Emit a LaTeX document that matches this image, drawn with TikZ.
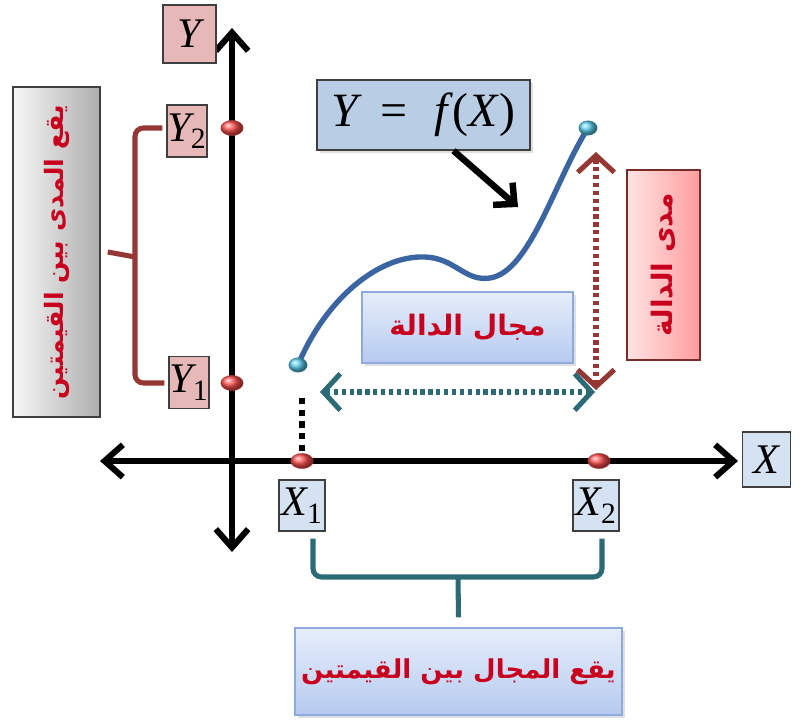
\documentclass[tikz,border=0pt]{standalone}
\usepackage{fontspec}
\newfontfamily\arabicfont[Script=Arabic]{DejaVu Sans}
\newfontfamily\timesfont{Liberation Serif}
\TeXXeTstate=1
\usetikzlibrary{positioning,arrows.meta,shapes.geometric,shadows}

\definecolor{curveblue}{HTML}{3A64A2}
\definecolor{rangered}{HTML}{953735}
\definecolor{domainteal}{HTML}{2C6B76}
\definecolor{labelred}{HTML}{C8001E}
\definecolor{pinkfill}{HTML}{E6B9B8}
\definecolor{bluefill}{HTML}{D5E2F2}
\definecolor{steelfill}{HTML}{B9CDE5}
\definecolor{dotred}{HTML}{FF5050}
\definecolor{dotcyan}{HTML}{5CD0F0}
\definecolor{framegray}{HTML}{3F3F3F}
\definecolor{boxblue}{HTML}{8EA9DB}
\definecolor{boxtop}{HTML}{E6EEFB}
\definecolor{boxbottom}{HTML}{B6CAEF}
\definecolor{pinkleft}{HTML}{FFE4E4}
\definecolor{pinkright}{HTML}{FF9C9C}

\newcommand{\artext}[1]{\arabicfont\bfseries\color{labelred}\beginR #1\endR}

\begin{document}
\begin{tikzpicture}[
    x=0.025cm, y=-0.025cm,
    axis/.style={line width=4.3pt, {Straight Barb[length=13pt,width=23pt]}-{Straight Barb[length=13pt,width=23pt]}},
    ylbl/.style={draw=framegray, fill=pinkfill, line width=0.8pt, inner sep=0pt, minimum width=1.0cm, minimum height=1.3cm, font=\timesfont\fontsize{30}{30}\selectfont\itshape},
    xlbl/.style={ylbl, fill=bluefill, minimum width=1.15cm, minimum height=1.275cm},
    rdot/.style={ellipse, ball color=dotred, draw=dotred!70!black, line width=0.3pt, minimum width=0.56cm, minimum height=0.38cm, inner sep=0pt},
    cdot/.style={rdot, ball color=dotcyan, draw=dotcyan!60!black, minimum width=0.46cm, minimum height=0.36cm},
    fcurve/.style={curveblue, line width=3.8pt, line cap=round},
    pointer/.style={line width=4.6pt, -{Straight Barb[length=11pt,width=21pt]}},
    rangearrow/.style={rangered, line width=3.6pt, dash pattern=on 3pt off 2.6pt, {Straight Barb[length=12pt,width=26pt]}-{Straight Barb[length=12pt,width=26pt]}},
    domainarrow/.style={rangearrow, domainteal},
    rbrace/.style={rangered, line width=3.6pt, rounded corners=6pt},
    tbrace/.style={domainteal, line width=3.6pt, rounded corners=6pt},
    arbox/.style={draw=boxblue, line width=0.8pt, top color=boxtop, bottom color=boxbottom, align=center, font=\fontsize{20}{24}\selectfont, drop shadow={opacity=0.25, shadow xshift=2pt, shadow yshift=-2pt}},
]
\useasboundingbox (0,0) rectangle (802,720);

\coordinate (xl) at (100,461);
\coordinate (xr) at (738,461);
\coordinate (yb) at (232,552);
\coordinate (yt) at (232,28);
\draw[axis] (xl) -- (xr);
\draw[axis] (yb) -- (yt);

\node[ylbl, minimum width=1.325cm, minimum height=1.45cm] (ylab) at (189.5,34) {Y};
\node[xlbl, minimum width=1.2cm, minimum height=1.375cm] (xlab) at (766.5,459.5) {X};

\node[ylbl] (ytwo) at (187,131) {Y\textsubscript{\upshape 2}};
\node[ylbl] (yone) at (189,382.5) {Y\textsubscript{\upshape 1}};
\node[xlbl] (xone) at (302,505.5) {X\textsubscript{\upshape 1}};
\node[xlbl] (xtwo) at (596,505.5) {X\textsubscript{\upshape 2}};

\node[draw=framegray, line width=1pt, inner sep=0pt, left color=black!3, right color=black!32, minimum width=8.25cm, minimum height=2.175cm, rotate=90, font=\fontsize{18}{22}\selectfont] (rangeall) at (56.5,252) {\artext{يقع المدى بين القيمتين}};
\node[draw=rangered!80!black, line width=0.8pt, inner sep=0pt, left color=pinkleft, right color=pinkright, minimum width=4.75cm, minimum height=1.825cm, rotate=90, font=\fontsize{20}{24}\selectfont] (rangef) at (663.5,265) {\artext{مدى الدالة}};
\node[arbox, minimum width=5.275cm, minimum height=1.775cm] (domainf) at (467.5,327.5) {\artext{مجال الدالة}};
\node[arbox, minimum width=8.175cm, minimum height=2.175cm, font=\fontsize{18.5}{22}\selectfont] (domainall) at (458.5,671.5) {\artext{يقع المجال بين القيمتين}};

\node[draw=framegray, line width=1pt, fill=steelfill, minimum width=5.325cm, minimum height=1.75cm, inner sep=0pt, font=\timesfont\fontsize{34}{34}\selectfont, drop shadow={opacity=0.25, shadow xshift=2pt, shadow yshift=-2pt}] (fx) at (423.5,115) {\itshape Y\ \,=\ \ f\/\upshape(\itshape X\/\upshape)};

\draw[rbrace] ([xshift=-0.1cm]ytwo.west |- 0,128) -| (135,257) |- ([xshift=-0.1cm]yone.west |- 0,383);
\draw[rbrace] (135,257) -- ([xshift=0.175cm]rangeall.south);
\draw[tbrace] ([xshift=0.275cm,yshift=-0.175cm]xone.south) |- (458,577) -| ([xshift=0.15cm,yshift=-0.175cm]xtwo.south);
\draw[tbrace] (458,577) -- ([yshift=0.25cm]domainall.north);

\coordinate (pa) at (298,365);
\coordinate (pb) at (588,128);
\draw[fcurve] (pa) .. controls (325,300) and (378,255) .. (425,257)
    .. controls (455,258) and (465,282) .. (490,278)
    .. controls (530,272) and (555,180) .. (pb);

\coordinate (fxtip) at (518,207);
\draw[pointer] ([xshift=0.75cm]fx.south) -- (fxtip);

\coordinate (ra) at (596,152);
\coordinate (rb) at (596,390);
\draw[rangearrow] (rb) -- (ra);
\coordinate (da) at (320,392);
\coordinate (db) at (595,392);
\draw[domainarrow] (da) -- (db);

\node[rdot] (dyt) at (232,128) {};
\node[rdot] (dyo) at (232,383) {};
\node[rdot] (dxo) at (302,461) {};
\node[rdot] (dxt) at (599,461) {};
\node[cdot] (dpa) at (pa) {};
\node[cdot] (dpb) at (pb) {};

\coordinate (dashtop) at (302,398);
\draw[line width=3.8pt, dash pattern=on 4.5pt off 3.8pt] (dashtop) -- (dxo.north);
\end{tikzpicture}
\end{document}
